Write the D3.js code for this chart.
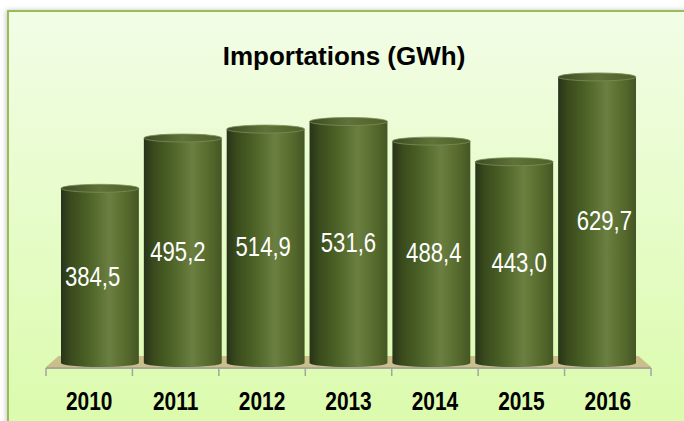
<!DOCTYPE html>
<html>
<head>
<meta charset="utf-8">
<script src="https://cdn.jsdelivr.net/npm/d3@7"></script>
<style>
  html, body { margin: 0; padding: 0; background: #fff; }
  svg { display: block; }
  text { font-family: "Liberation Sans", Arial, sans-serif; }
</style>
</head>
<body>
<div id="chart"></div>
<script>
// data
const years = ["2010", "2011", "2012", "2013", "2014", "2015", "2016"];
const imports = [384.5, 495.2, 514.9, 531.6, 488.4, 443.0, 629.7];
const title = "Importations (GWh)";

const width = 684, height = 421;

const svg = d3.select("#chart").append("svg")
    .attr("width", width)
    .attr("height", height);

const defs = svg.append("defs");

let bg = defs.append("linearGradient").attr("id", "bg")
    .attr("x1", 0).attr("y1", 0).attr("x2", 0).attr("y2", 1);
bg.append("stop").attr("offset", "0%").attr("stop-color", "#f2fde6");
bg.append("stop").attr("offset", "100%").attr("stop-color", "#dafbaa");

let cyl = defs.append("linearGradient").attr("id", "cyl")
    .attr("x1", 0).attr("y1", 0).attr("x2", 1).attr("y2", 0);
[["0%", "#28331a"], ["12%", "#394a1c"], ["35%", "#4c6226"], ["62%", "#6a7f40"],
 ["85%", "#56692c"], ["100%", "#445624"]].forEach(s =>
    cyl.append("stop").attr("offset", s[0]).attr("stop-color", s[1]));

let capg = defs.append("linearGradient").attr("id", "cap")
    .attr("x1", 0).attr("y1", 0).attr("x2", 1).attr("y2", 0);
[["0%", "#3c4c22"], ["50%", "#5f7338"], ["100%", "#4e6128"]].forEach(s =>
    capg.append("stop").attr("offset", s[0]).attr("stop-color", s[1]));

defs.append("filter").attr("id", "shadow")
    .attr("x", "-10%").attr("y", "-10%").attr("width", "120%").attr("height", "120%")
    .append("feGaussianBlur").attr("stdDeviation", 2.5);

// frame
svg.append("rect")
    .attr("x", 6).attr("y", 10).attr("width", 700).attr("height", 430)
    .attr("fill", "#c8c8c8")
    .attr("filter", "url(#shadow)");
svg.append("rect")
    .attr("x", 8).attr("y", 11).attr("width", 700).attr("height", 430)
    .attr("fill", "url(#bg)")
    .attr("stroke", "#9bbb59")
    .attr("stroke-width", 2);

// scales: front of floor (axis), back of floor (bars), middle (labels)
const xFront = d3.scaleBand().domain(years).range([46, 651]);
const xBack = d3.scaleBand().domain(years).range([58.5, 638.5]).paddingInner(0.06).paddingOuter(0.03);
const xMid = d3.scaleBand().domain(years).range([50, 647]);
const y = d3.scaleLinear().domain([0, 700]).range([363, 45]);

const floorBack = 356, floorFront = 367;

// floor
svg.append("path")
    .attr("d", `M${xFront.range()[0]},${floorFront} L${xBack.range()[0]},${floorBack} L${xBack.range()[1]},${floorBack} L${xFront.range()[1]},${floorFront} Z`)
    .attr("fill", "#c8b784")
    .attr("fill-opacity", 0.9);
svg.append("rect")
    .attr("x", xFront.range()[0]).attr("y", floorFront)
    .attr("width", xFront.range()[1] - xFront.range()[0]).attr("height", 2)
    .attr("fill", "#a9a79c");

// axis
const axis = svg.append("g")
    .attr("transform", `translate(0,${floorFront + 1})`)
    .call(d3.axisBottom(xFront).tickSize(0).tickPadding(0).tickFormat(""));
axis.select(".domain").remove();
axis.selectAll(".tick").remove();

const tickPos = years.map(d => xFront(d)).concat([xFront.range()[1]]);
svg.append("g").selectAll("line")
    .data(tickPos)
    .join("line")
    .attr("x1", d => d).attr("x2", d => d)
    .attr("y1", floorFront + 1).attr("y2", floorFront + 9)
    .attr("stroke", "#a3a3a0")
    .attr("stroke-width", 1.5);

svg.append("g").selectAll("text")
    .data(years)
    .join("text")
    .attr("transform", d => `translate(${xFront(d) + xFront.bandwidth() / 2},410) scale(0.82,1)`)
    .attr("text-anchor", "middle")
    .attr("font-size", 25.5)
    .attr("font-weight", "bold")
    .attr("fill", "#000")
    .text(d => d);

// cylinders
const ry = 4;
const bars = svg.append("g").selectAll("g")
    .data(years.map((d, i) => ({year: d, value: imports[i]})))
    .join("g");

bars.append("path")
    .attr("d", d => {
        const x0 = xBack(d.year), w = xBack.bandwidth(), rx = w / 2;
        const top = y(d.value), bot = y(0);
        return `M${x0},${top} L${x0},${bot} A${rx},${ry} 0 0 0 ${x0 + w},${bot} L${x0 + w},${top} Z`;
    })
    .attr("fill", "url(#cyl)");

bars.append("ellipse")
    .attr("cx", d => xBack(d.year) + xBack.bandwidth() / 2)
    .attr("cy", d => y(d.value))
    .attr("rx", xBack.bandwidth() / 2)
    .attr("ry", ry)
    .attr("fill", "url(#cap)")
    .attr("stroke", "#7d8c5c")
    .attr("stroke-width", 0.8);

bars.append("text")
    .attr("transform", d => `translate(${xMid(d.year) + xMid.bandwidth() / 2},${(y(d.value) + y(0)) / 2 + 10}) scale(0.82,1)`)
    .attr("text-anchor", "middle")
    .attr("font-size", 27)
    .attr("fill", "#fff")
    .text(d => d3.format(".1f")(d.value).replace(".", ","));

// title
svg.append("text")
    .attr("x", 344)
    .attr("y", 65)
    .attr("text-anchor", "middle")
    .attr("font-size", 26)
    .attr("font-weight", "bold")
    .attr("fill", "#000")
    .text(title);
</script>
</body>
</html>
